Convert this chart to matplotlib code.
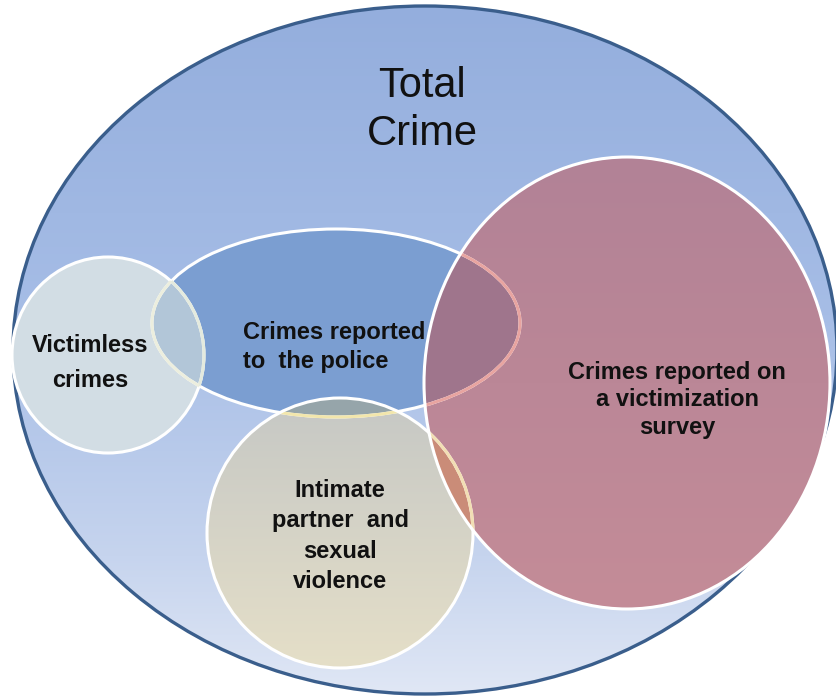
import numpy as np
import matplotlib.pyplot as plt
from matplotlib.patches import Ellipse

plt.rcParams['font.family'] = ['Liberation Sans', 'DejaVu Sans']

# set names and their labels
sets = ['total', 'victimless', 'police', 'ipv', 'survey']
labels = ['Total\nCrime', 'Victimless\ncrimes', 'Crimes reported\nto  the police',
          'Intimate\npartner  and\nsexual\nviolence',
          'Crimes reported on\na victimization\nsurvey']

# layout in pixel units: centre x, centre y, width, height
geom = {
    'total':      (425, 350, 824, 688),
    'victimless': (108, 355, 192, 196),
    'police':     (336, 323, 368, 188),
    'ipv':        (340, 533, 266, 270),
    'survey':     (627, 383, 406, 452),
}

fig = plt.figure(figsize=(8.36, 6.98), dpi=100)
ax = fig.add_axes([0, 0, 1, 1])
ax.set_xlim(0, 836)
ax.set_ylim(698, 0)
ax.axis('off')


def rgb(*c):
    return tuple(v / 255 for v in c)


def shape(name, **kw):
    cx, cy, w, h = geom[name]
    e = Ellipse((cx, cy), w, h, transform=ax.transData, **kw)
    return e


def gradient(name, stops, z):
    cx, cy, w, h = geom[name]
    pos = np.array([s[0] for s in stops])
    cols = np.array([s[1] for s in stops]) / 255
    t = np.linspace(0, 1, 256)
    arr = np.stack([np.interp(t, pos, cols[:, k]) for k in range(3)], axis=1)
    arr = arr[:, None, :]
    clip = shape(name, facecolor='none', edgecolor='none')
    ax.add_patch(clip)
    im = ax.imshow(arr, extent=[cx - w / 2, cx + w / 2, cy + h / 2, cy - h / 2],
                   origin='upper', aspect='auto', zorder=z, interpolation='bilinear')
    im.set_clip_path(clip)


def fill(name, color, z, clip_to=None):
    p = shape(name, facecolor=color, edgecolor='none', zorder=z)
    ax.add_patch(p)
    if clip_to is not None:
        c = shape(clip_to, facecolor='none', edgecolor='none')
        p.set_clip_path(c)


def edge(name, color, lw, z, clip_to=None):
    p = shape(name, facecolor='none', edgecolor=color, linewidth=lw, zorder=z)
    ax.add_patch(p)
    if clip_to is not None:
        c = shape(clip_to, facecolor='none', edgecolor='none')
        p.set_clip_path(c)


# outer set
gradient('total', [(0, (148, 174, 221)), (0.45, (166, 189, 230)),
                   (0.8, (198, 212, 238)), (1, (224, 231, 245))], 1)
edge('total', rgb(58, 94, 140), 2.4, 2)

# inner sets and their overlaps
fill('victimless', rgb(210, 221, 228), 3)
fill('police', rgb(123, 158, 209), 4)
fill('victimless', rgb(178, 198, 216), 5, clip_to='police')
gradient('ipv', [(0, (198, 200, 197)), (1, (229, 223, 200))], 6)
fill('police', rgb(150, 165, 170), 7, clip_to='ipv')
gradient('survey', [(0, (178, 130, 150)), (1, (196, 140, 152))], 8)
fill('police', rgb(159, 117, 140), 9, clip_to='survey')
fill('ipv', rgb(202, 140, 120), 10, clip_to='survey')

# outlines
lw = 2.2
edge('victimless', 'white', lw, 11)
edge('police', 'white', lw, 12)
edge('victimless', rgb(228, 234, 222), lw, 13, clip_to='police')
edge('police', rgb(236, 238, 222), lw, 13, clip_to='victimless')
edge('police', rgb(242, 230, 172), lw, 14, clip_to='ipv')
edge('ipv', 'white', lw, 15)
edge('police', rgb(232, 164, 160), lw, 16, clip_to='survey')
edge('ipv', rgb(242, 222, 180), lw, 16, clip_to='survey')
edge('survey', 'white', lw, 17)

# labels
ink = '#111111'
ax.text(422, 110, labels[0], ha='center', va='center', fontsize=30,
        color=ink, linespacing=1.28, zorder=20)
ax.text(90, 363, labels[1], ha='center', va='center', fontsize=17,
        fontweight='bold', color=ink, linespacing=1.65, zorder=20)
ax.text(243, 347, labels[2], ha='left', va='center', fontsize=17,
        fontweight='bold', color=ink, linespacing=1.33, zorder=20,
        multialignment='left')
ax.text(340, 536, labels[3], ha='center', va='center', fontsize=17,
        fontweight='bold', color=ink, linespacing=1.42, zorder=20)
ax.text(677, 400, labels[4], ha='center', va='center', fontsize=17,
        fontweight='bold', color=ink, linespacing=1.27, zorder=20)

fig.savefig('out.png', dpi=100)
